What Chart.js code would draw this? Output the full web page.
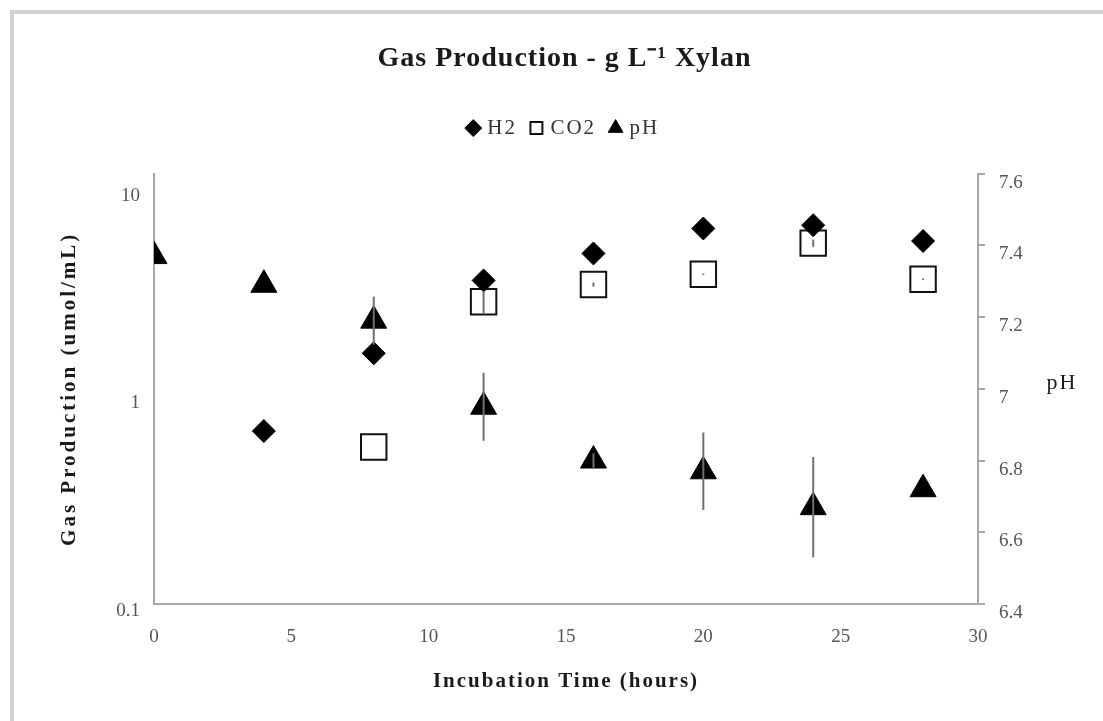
<!DOCTYPE html>
<html>
<head>
<meta charset="utf-8">
<script src="https://cdn.jsdelivr.net/npm/chart.js@4.4.1/dist/chart.umd.min.js"></script>
<style>
  html, body { margin: 0; padding: 0; background: #fff; overflow: hidden; }
  #frame { position: absolute; left: 10px; top: 10px; width: 1200px; height: 800px;
           border: 4px solid #d2d2d2; box-sizing: border-box; }
  #wrap { position: absolute; left: 0; top: 0; width: 1103px; height: 721px; }
</style>
</head>
<body>
<div id="frame"></div>
<div id="wrap"><canvas id="chart"></canvas></div>
<script>
// Sampling times (hours)
const hours = [0, 4, 8, 12, 16, 20, 24, 28];
// Gas production (umol/mL), log axis
const h2 = [null, 0.68, 1.61, 3.61, 4.87, 6.42, 6.66, 5.59];
const co2 = [null, null, 0.57, 2.85, 3.45, 3.87, 5.46, 3.66];
const co2Err = [null, null, 0, 0.35, 0.08, 0.03, 0.22, 0.03];
// Culture pH, right axis
const ph = [7.37, 7.29, 7.19, 6.95, 6.80, 6.77, 6.67, 6.72];
const phErr = [0, 0, 0.067, 0.095, 0.02, 0.108, 0.14, 0];
// Tick labels
const gasTicks = [0.1, 1, 10];
const phTicks = [6.4, 6.6, 6.8, 7.0, 7.2, 7.4, 7.6];
const timeTicks = [0, 5, 10, 15, 20, 25, 30];

function points(values) {
  return hours.map((h, i) => ({ x: h, y: values[i] })).filter(p => p.y !== null);
}
function errs(values, errors) {
  return hours.map((h, i) => ({ v: values[i], e: errors[i] })).filter(p => p.v !== null).map(p => p.e);
}

const SERIF = '"Liberation Serif", "Times New Roman", serif';
Chart.defaults.font.family = SERIF;
Chart.defaults.color = '#555';
const AXIS = '#a8a8a8';

// vertical standard-deviation bars
const errorBars = {
  id: 'errorBars',
  afterDatasetsDraw(chart) {
    const ctx = chart.ctx;
    ctx.save();
    ctx.strokeStyle = '#707070';
    ctx.lineWidth = 2;
    chart.data.datasets.forEach((ds, di) => {
      if (!ds.errors) return;
      const ys = chart.scales[ds.yAxisID];
      const xs = chart.scales.x;
      ds.data.forEach((p, i) => {
        const e = ds.errors[i];
        if (!e) return;
        const x = xs.getPixelForValue(p.x);
        ctx.beginPath();
        ctx.moveTo(x, ys.getPixelForValue(p.y + e));
        ctx.lineTo(x, ys.getPixelForValue(p.y - e));
        ctx.stroke();
      });
    });
    ctx.restore();
  }
};

// horizontal title for the secondary (pH) axis
const phAxisTitle = {
  id: 'phAxisTitle',
  afterDraw(chart) {
    const s = chart.scales.y1;
    const ctx = chart.ctx;
    ctx.save();
    ctx.font = '22px ' + SERIF;
    ctx.letterSpacing = '2px';
    ctx.fillStyle = '#1a1a1a';
    ctx.textAlign = 'center';
    ctx.textBaseline = 'middle';
    ctx.fillText('pH', s.right - 41, (s.top + s.bottom) / 2 - 6);
    ctx.restore();
  }
};

// wider letter spacing for the title, legend and axis titles
function spaced(obj, method, px) {
  const orig = obj[method];
  obj[method] = function (...args) {
    const ctx = this.ctx;
    const prev = ctx.letterSpacing;
    ctx.letterSpacing = px + 'px';
    const r = orig.apply(this, args);
    ctx.letterSpacing = prev;
    return r;
  };
}
const textSpacing = {
  id: 'textSpacing',
  beforeLayout(chart) {
    if (chart.$spaced) return;
    chart.$spaced = true;
    spaced(chart.titleBlock, 'draw', 1);
    spaced(chart.legend, 'fit', 2);
    spaced(chart.legend, 'draw', 2);
    spaced(chart.scales.x, 'drawTitle', 2);
    spaced(chart.scales.y, 'drawTitle', 3);
  }
};

new Chart(document.getElementById('chart'), {
  type: 'scatter',
  data: {
    datasets: [
      {
        label: 'H2', data: points(h2), yAxisID: 'y',
        pointStyle: 'rectRot', pointRadius: 11.5, pointHoverRadius: 11.5,
        backgroundColor: '#000', borderColor: '#000', borderWidth: 1
      },
      {
        label: 'CO2', data: points(co2), errors: errs(co2, co2Err), yAxisID: 'y',
        pointStyle: 'rect', pointRadius: 18, pointHoverRadius: 18,
        backgroundColor: '#fff', borderColor: '#111', borderWidth: 2
      },
      {
        label: 'pH', data: points(ph), errors: errs(ph, phErr), yAxisID: 'y1',
        pointStyle: 'triangle', pointRadius: 15, pointHoverRadius: 15,
        backgroundColor: '#000', borderColor: '#000', borderWidth: 1
      }
    ]
  },
  options: {
    responsive: true,
    maintainAspectRatio: false,
    animation: false,
    layout: { padding: { left: 26, right: 0, top: 0, bottom: 0 } },
    plugins: {
      tooltip: { enabled: false },
      title: {
        display: true,
        text: 'Gas Production - g L\u207B\u00B9 Xylan',
        color: '#1a1a1a',
        font: { size: 28, weight: 'bold', family: SERIF },
        padding: { top: 42, bottom: 26 }
      },
      legend: {
        position: 'top',
        labels: {
          usePointStyle: true,
          boxHeight: 12,
          boxWidth: 7,
          padding: 16,
          color: '#333',
          font: { size: 21, family: SERIF }
        }
      }
    },
    scales: {
      x: {
        type: 'linear', position: 'bottom', min: 0, max: 30,
        afterBuildTicks: s => { s.ticks = timeTicks.map(v => ({ value: v })); },
        ticks: { color: '#555', font: { size: 19 }, padding: 22 },
        grid: { display: false, drawTicks: false },
        border: { color: AXIS, width: 2 },
        title: {
          display: true, text: 'Incubation Time (hours)', color: '#1a1a1a',
          font: { size: 21, weight: 'bold' }, padding: { top: 0, bottom: 27 }
        },
        afterFit: s => { s.height = 117; }
      },
      xTop: {
        type: 'linear', position: 'top', display: true,
        ticks: { display: false },
        grid: { display: false, drawTicks: false },
        border: { display: false },
        afterFit: s => { s.height = 25; }
      },
      y: {
        type: 'logarithmic', position: 'left', min: 0.1, max: 11.8,
        afterBuildTicks: s => { s.ticks = gasTicks.map(v => ({ value: v })); },
        ticks: { color: '#555', font: { size: 19 }, padding: 14, labelOffset: 7, callback: v => String(v) },
        grid: { display: false, drawTicks: false },
        border: { color: AXIS, width: 2 },
        title: {
          display: true, text: 'Gas Production (umol/mL)', color: '#1a1a1a',
          font: { size: 21, weight: 'bold' }, padding: { top: 31, bottom: 0 }
        },
        afterFit: s => { s.width = 128; }
      },
      y1: {
        type: 'linear', position: 'right', min: 6.4, max: 7.6,
        afterBuildTicks: s => { s.ticks = phTicks.map(v => ({ value: v })); },
        ticks: { color: '#555', font: { size: 19 }, padding: 14, labelOffset: 9, callback: v => String(+v.toFixed(1)) },
        grid: { drawOnChartArea: false, drawTicks: true, tickLength: 7, color: AXIS, lineWidth: 2 },
        border: { color: AXIS, width: 2 },
        afterFit: s => { s.width = 125; }
      }
    }
  },
  plugins: [errorBars, phAxisTitle, textSpacing]
});
</script>
</body>
</html>
